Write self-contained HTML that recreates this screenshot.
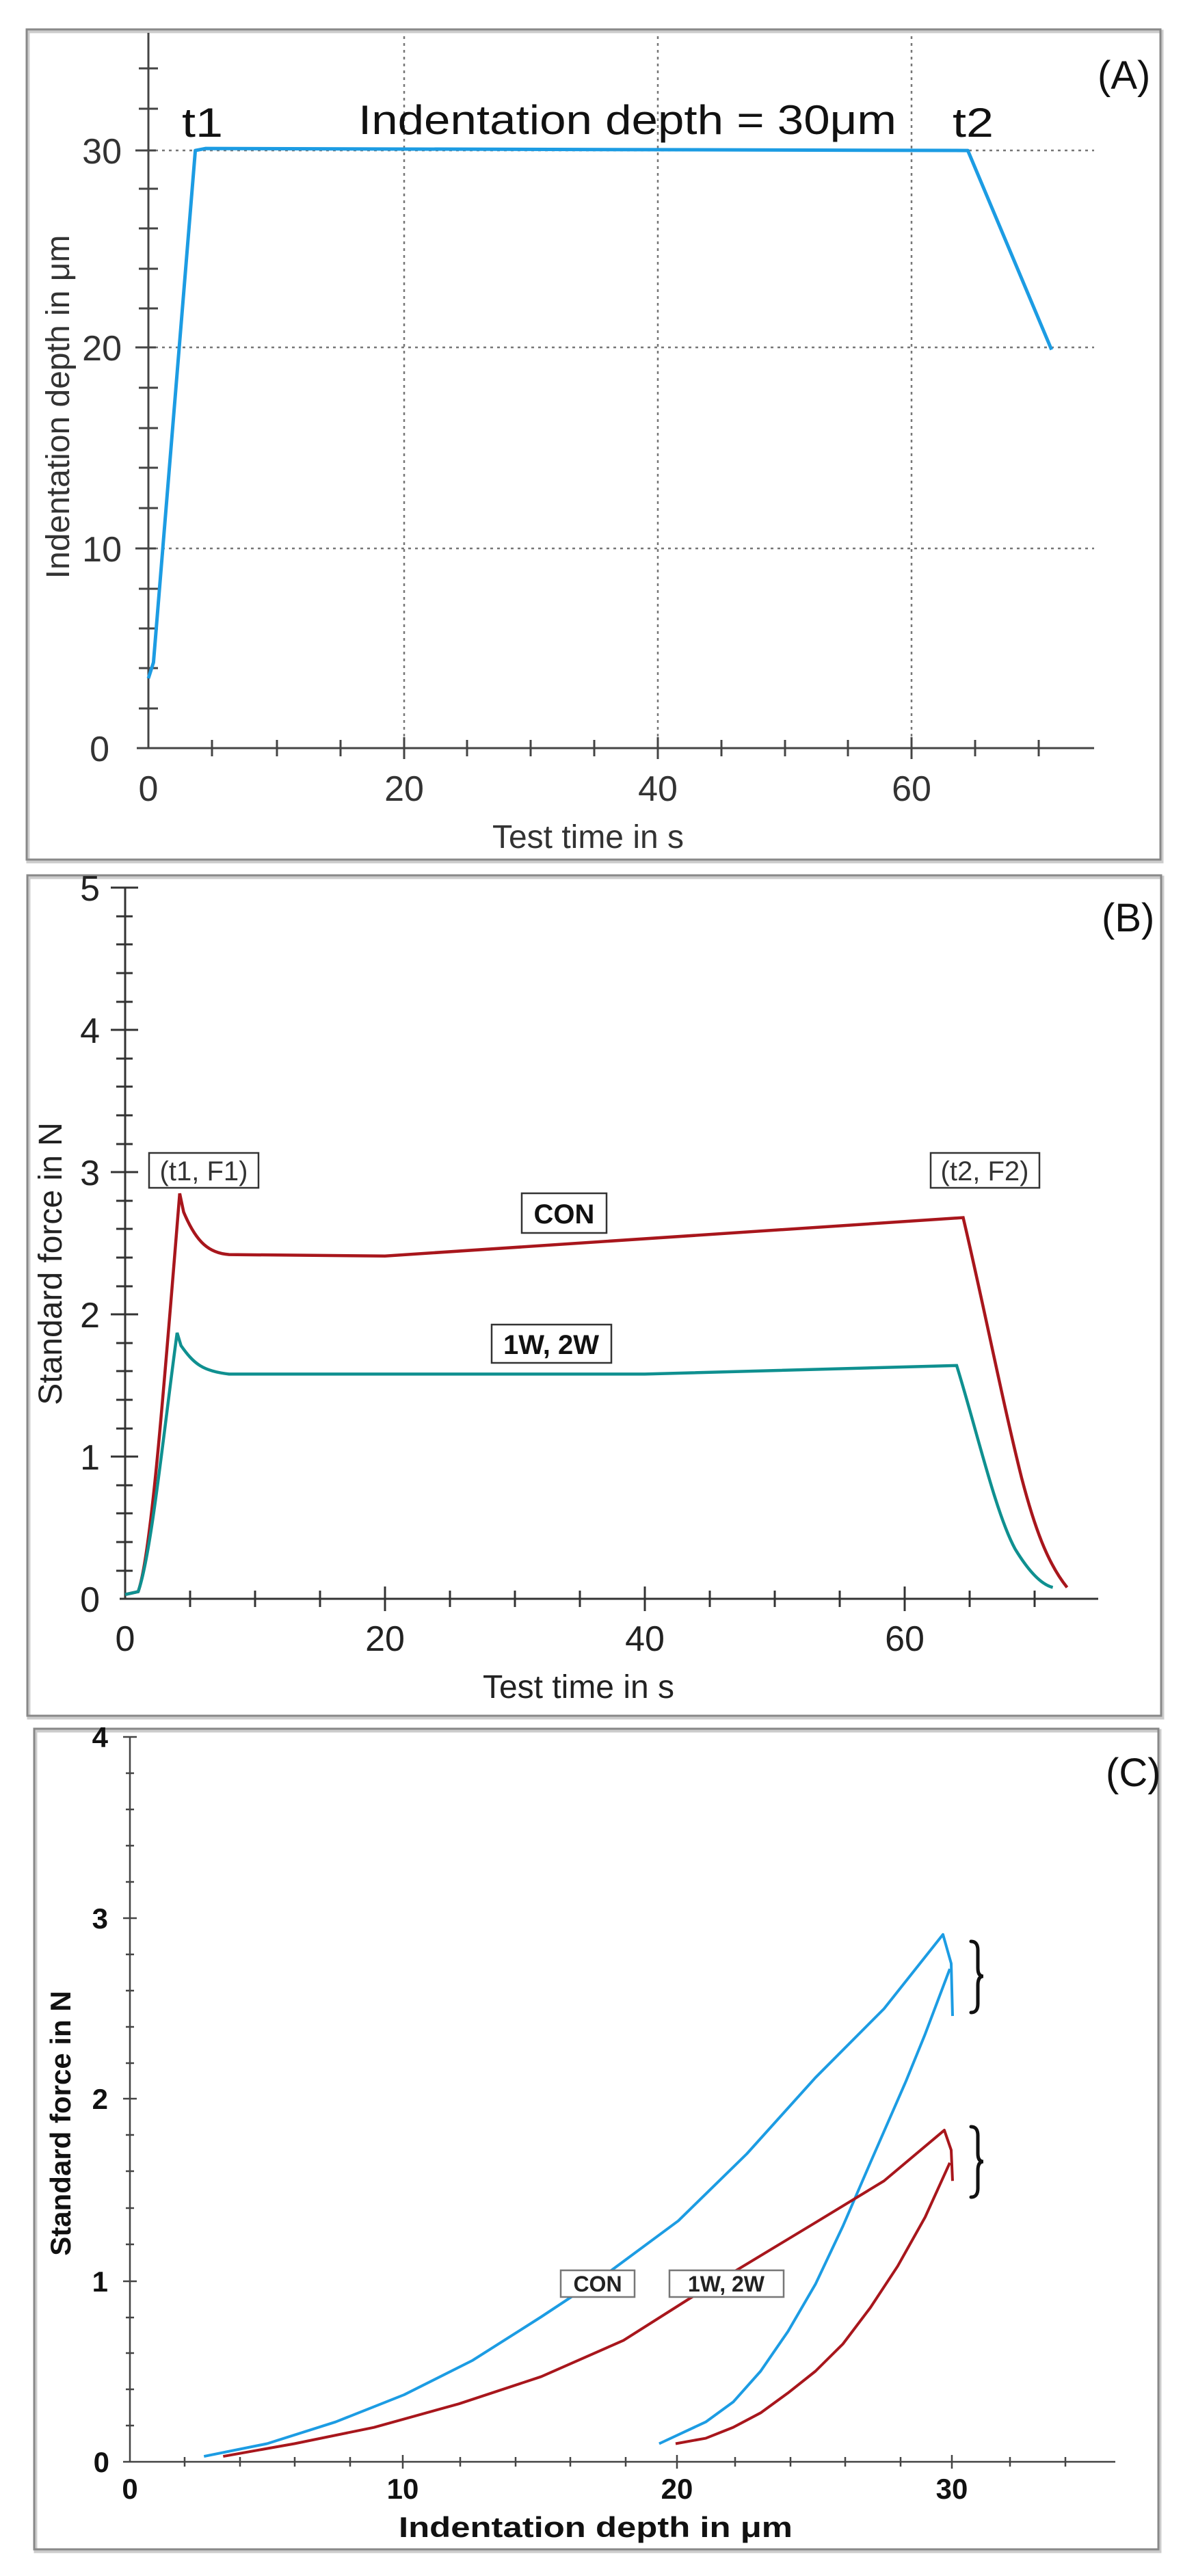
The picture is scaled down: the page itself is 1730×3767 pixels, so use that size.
<!DOCTYPE html>
<html><head><meta charset="utf-8"><style>html,body{margin:0;padding:0;background:#fff}svg{display:block}</style></head><body>
<svg xmlns="http://www.w3.org/2000/svg" width="1730" height="3767" viewBox="0 0 1730 3767" font-family="Liberation Sans, Arial, sans-serif">
<rect width="1730" height="3767" fill="#fff"/>
<g fill="none" stroke="#888" stroke-width="3">
<rect x="41" y="46" width="1658" height="1214" stroke="#ccc" stroke-width="5"/>
<rect x="39" y="43" width="1658" height="1214"/>
<rect x="42" y="1283" width="1658" height="1229" stroke="#ccc" stroke-width="5"/>
<rect x="40" y="1280" width="1658" height="1229"/>
<rect x="52" y="2531" width="1644" height="1200" stroke="#ccc" stroke-width="5"/>
<rect x="50" y="2528" width="1644" height="1200"/>
</g>

<!-- ===== Panel A ===== -->
<g stroke="#777" stroke-width="2.5" stroke-dasharray="4,6" fill="none">
<line x1="217" y1="220" x2="1600" y2="220"/>
<line x1="217" y1="508" x2="1600" y2="508"/>
<line x1="217" y1="802" x2="1600" y2="802"/>
<line x1="591" y1="53" x2="591" y2="1094"/>
<line x1="962" y1="53" x2="962" y2="1094"/>
<line x1="1333" y1="53" x2="1333" y2="1094"/>
</g>
<g stroke="#444" stroke-width="3">
<line x1="217" y1="48" x2="217" y2="1094"/>
<line x1="200" y1="1094" x2="1600" y2="1094"/>
<path d="M203 100H231M203 159H231M203 276H231M203 334H231M203 393H231M203 451H231M203 567H231M203 626H231M203 684H231M203 743H231M203 861H231M203 919H231M203 977H231M203 1036H231M198 220H228M198 508H228M198 802H228"/>
<path d="M310 1082V1106M405 1082V1106M498 1082V1106M591 1078V1110M683 1082V1106M776 1082V1106M869 1082V1106M962 1078V1110M1055 1082V1106M1148 1082V1106M1240 1082V1106M1333 1078V1110M1426 1082V1106M1519 1082V1106"/>
</g>
<path d="M0,3.5 L0.4,4.3 L3.7,30 L4.5,30.1 L64.6,30 L71.2,20" transform="matrix(18.55 0 0 -29.13 217 1094)" fill="none" stroke="#1c9ce3" stroke-width="5" vector-effect="non-scaling-stroke" stroke-linejoin="round"/>
<g fill="#333" font-size="52">
<text x="178" y="239" text-anchor="end">30</text>
<text x="178" y="527" text-anchor="end">20</text>
<text x="178" y="821" text-anchor="end">10</text>
<text x="160" y="1113" text-anchor="end">0</text>
<text x="217" y="1171" text-anchor="middle">0</text>
<text x="591" y="1171" text-anchor="middle">20</text>
<text x="962" y="1171" text-anchor="middle">40</text>
<text x="1333" y="1171" text-anchor="middle">60</text>
<text x="860" y="1240" text-anchor="middle" font-size="48">Test time in s</text>
<text transform="translate(101 595) rotate(-90)" text-anchor="middle" font-size="48">Indentation depth in μm</text>
</g>
<g fill="#111" font-size="60">
<text x="266" y="200" textLength="60" lengthAdjust="spacingAndGlyphs">t1</text>
<text x="524" y="196" textLength="787" lengthAdjust="spacingAndGlyphs">Indentation depth = 30μm</text>
<text x="1393" y="200" textLength="60" lengthAdjust="spacingAndGlyphs">t2</text>
<text x="1605" y="130" font-size="58">(A)</text>
</g>

<!-- ===== Panel B ===== -->
<g stroke="#333" stroke-width="3">
<line x1="183" y1="1298" x2="183" y2="2338"/>
<line x1="175" y1="2338" x2="1606" y2="2338"/>
<path d="M162 1298H202M162 1506H202M162 1714H202M162 1922H202M162 2130H202"/>
<path d="M170 1340H194M170 1381H194M170 1423H194M170 1465H194M170 1548H194M170 1589H194M170 1631H194M170 1673H194M170 1756H194M170 1797H194M170 1839H194M170 1881H194M170 1964H194M170 2005H194M170 2047H194M170 2089H194M170 2172H194M170 2213H194M170 2255H194M170 2297H194"/>
<path d="M278 2326V2350M373 2326V2350M468 2326V2350M563 2320V2356M658 2326V2350M753 2326V2350M848 2326V2350M943 2320V2356M1038 2326V2350M1133 2326V2350M1228 2326V2350M1323 2320V2356M1418 2326V2350M1513 2326V2350"/>
</g>
<path d="M0,0.03 L1,0.05 C2,0.3 3,1.5 4.2,2.85 L4.5,2.72 C5.5,2.5 6.5,2.43 8,2.42 L20,2.41 L64.5,2.68 C66,2.1 67.5,1.4 69,0.85 C70,0.5 71,0.25 72.5,0.08" transform="matrix(19.0 0 0 -208 183 2338)" fill="none" stroke="#a8161c" stroke-width="4.5" vector-effect="non-scaling-stroke"/>
<path d="M0,0.03 L1,0.05 C2,0.3 3,1.2 4,1.87 L4.3,1.78 C5.3,1.65 6,1.6 8,1.58 L40,1.58 L64,1.64 C65.5,1.2 67,0.6 68.5,0.35 C69.5,0.2 70.5,0.1 71.4,0.08" transform="matrix(19.0 0 0 -208 183 2338)" fill="none" stroke="#0f9090" stroke-width="4.5" vector-effect="non-scaling-stroke"/>
<g fill="#222" font-size="52">
<text x="146" y="1317" text-anchor="end">5</text>
<text x="146" y="1525" text-anchor="end">4</text>
<text x="146" y="1733" text-anchor="end">3</text>
<text x="146" y="1941" text-anchor="end">2</text>
<text x="146" y="2149" text-anchor="end">1</text>
<text x="146" y="2357" text-anchor="end">0</text>
<text x="183" y="2414" text-anchor="middle">0</text>
<text x="563" y="2414" text-anchor="middle">20</text>
<text x="943" y="2414" text-anchor="middle">40</text>
<text x="1323" y="2414" text-anchor="middle">60</text>
<text x="846" y="2483" text-anchor="middle" font-size="48">Test time in s</text>
<text transform="translate(90 1848) rotate(-90)" text-anchor="middle" font-size="48">Standard force in N</text>
</g>
<text x="1611" y="1362" font-size="58" fill="#111">(B)</text>
<g fill="#fff" stroke="#333" stroke-width="2.5">
<rect x="218" y="1686" width="160" height="51"/>
<rect x="1361" y="1686" width="159" height="51"/>
<rect x="763" y="1745" width="124" height="58"/>
<rect x="719" y="1937" width="175" height="56"/>
</g>
<g fill="#333" font-size="40" text-anchor="middle">
<text x="298" y="1726">(t1, F1)</text>
<text x="1440" y="1726">(t2, F2)</text>
<text x="825" y="1789" font-weight="bold" fill="#111">CON</text>
<text x="806" y="1980" font-weight="bold" fill="#111">1W, 2W</text>
</g>

<!-- ===== Panel C ===== -->
<g stroke="#444" stroke-width="2.5">
<line x1="190" y1="2540" x2="190" y2="3600"/>
<line x1="180" y1="3600" x2="1631" y2="3600"/>
<path d="M180 2540H200M180 2805H200M180 3069H200M180 3336H200"/>
<path d="M184 2593H196M184 2646H196M184 2699H196M184 2752H196M184 2858H196M184 2911H196M184 2964H196M184 3017H196M184 3122H196M184 3175H196M184 3229H196M184 3282H196M184 3389H196M184 3441H196M184 3494H196M184 3547H196"/>
<path d="M270 3593V3607M351 3593V3607M431 3593V3607M512 3593V3607M589 3590V3610M673 3593V3607M754 3593V3607M834 3593V3607M915 3593V3607M990 3590V3610M1075 3593V3607M1156 3593V3607M1236 3593V3607M1317 3593V3607M1392 3590V3610M1477 3593V3607M1558 3593V3607"/>
</g>
<g transform="matrix(40.1 0 0 -265 190 3600)" fill="none" stroke-width="4" stroke-linejoin="round">
<polyline vector-effect="non-scaling-stroke" stroke="#1c9ce3" points="2.7,0.03 5,0.1 7.5,0.22 10,0.37 12.5,0.56 15,0.8 17.5,1.05 20,1.33 22.5,1.7 25,2.12 27.5,2.5 29.65,2.91 29.95,2.75 30,2.46"/>
<polyline vector-effect="non-scaling-stroke" stroke="#1c9ce3" points="29.9,2.72 29,2.36 28.3,2.1 27,1.65 26,1.3 25,0.98 24,0.72 23,0.5 22,0.33 21,0.22 19.3,0.1"/>
<polyline vector-effect="non-scaling-stroke" stroke="#a8161c" points="3.4,0.03 6,0.1 8.9,0.19 12,0.32 15,0.47 18,0.67 20.4,0.9 25,1.32 27.5,1.55 29.7,1.83 29.95,1.72 30,1.55"/>
<polyline vector-effect="non-scaling-stroke" stroke="#a8161c" points="29.9,1.65 29,1.35 28,1.08 27,0.85 26,0.65 25,0.5 24,0.38 23,0.27 22,0.19 21,0.13 19.9,0.1"/>
</g>
<g fill="#111" font-size="42" font-weight="bold">
<text x="158" y="2555" text-anchor="end">4</text>
<text x="158" y="2820" text-anchor="end">3</text>
<text x="158" y="3084" text-anchor="end">2</text>
<text x="158" y="3351" text-anchor="end">1</text>
<text x="160" y="3615" text-anchor="end">0</text>
<text x="190" y="3654" text-anchor="middle">0</text>
<text x="589" y="3654" text-anchor="middle">10</text>
<text x="990" y="3654" text-anchor="middle">20</text>
<text x="1392" y="3654" text-anchor="middle">30</text>
<text x="583" y="3710" textLength="576" lengthAdjust="spacingAndGlyphs">Indentation depth in μm</text>
<text transform="translate(103 3105) rotate(-90)" text-anchor="middle">Standard force in N</text>
</g>
<text x="1617" y="2612" font-size="58" fill="#111">(C)</text>
<g fill="#fff" stroke="#777" stroke-width="2.5">
<rect x="820" y="3320" width="108" height="39"/>
<rect x="979" y="3320" width="167" height="39"/>
</g>
<g fill="#222" font-size="32" font-weight="bold" text-anchor="middle">
<text x="874" y="3351">CON</text>
<text x="1062" y="3351">1W, 2W</text>
</g>
<g fill="none" stroke="#111" stroke-width="5" stroke-linecap="round">
<path d="M1420 2839 Q1430 2839 1430 2852 L1430 2878 Q1430 2890 1438 2890 Q1430 2890 1430 2903 L1430 2930 Q1430 2943 1420 2943"/>
<path d="M1420 3110 Q1430 3110 1430 3123 L1430 3149 Q1430 3161 1438 3161 Q1430 3161 1430 3174 L1430 3200 Q1430 3213 1420 3213"/>
</g>
</svg>
</body></html>
